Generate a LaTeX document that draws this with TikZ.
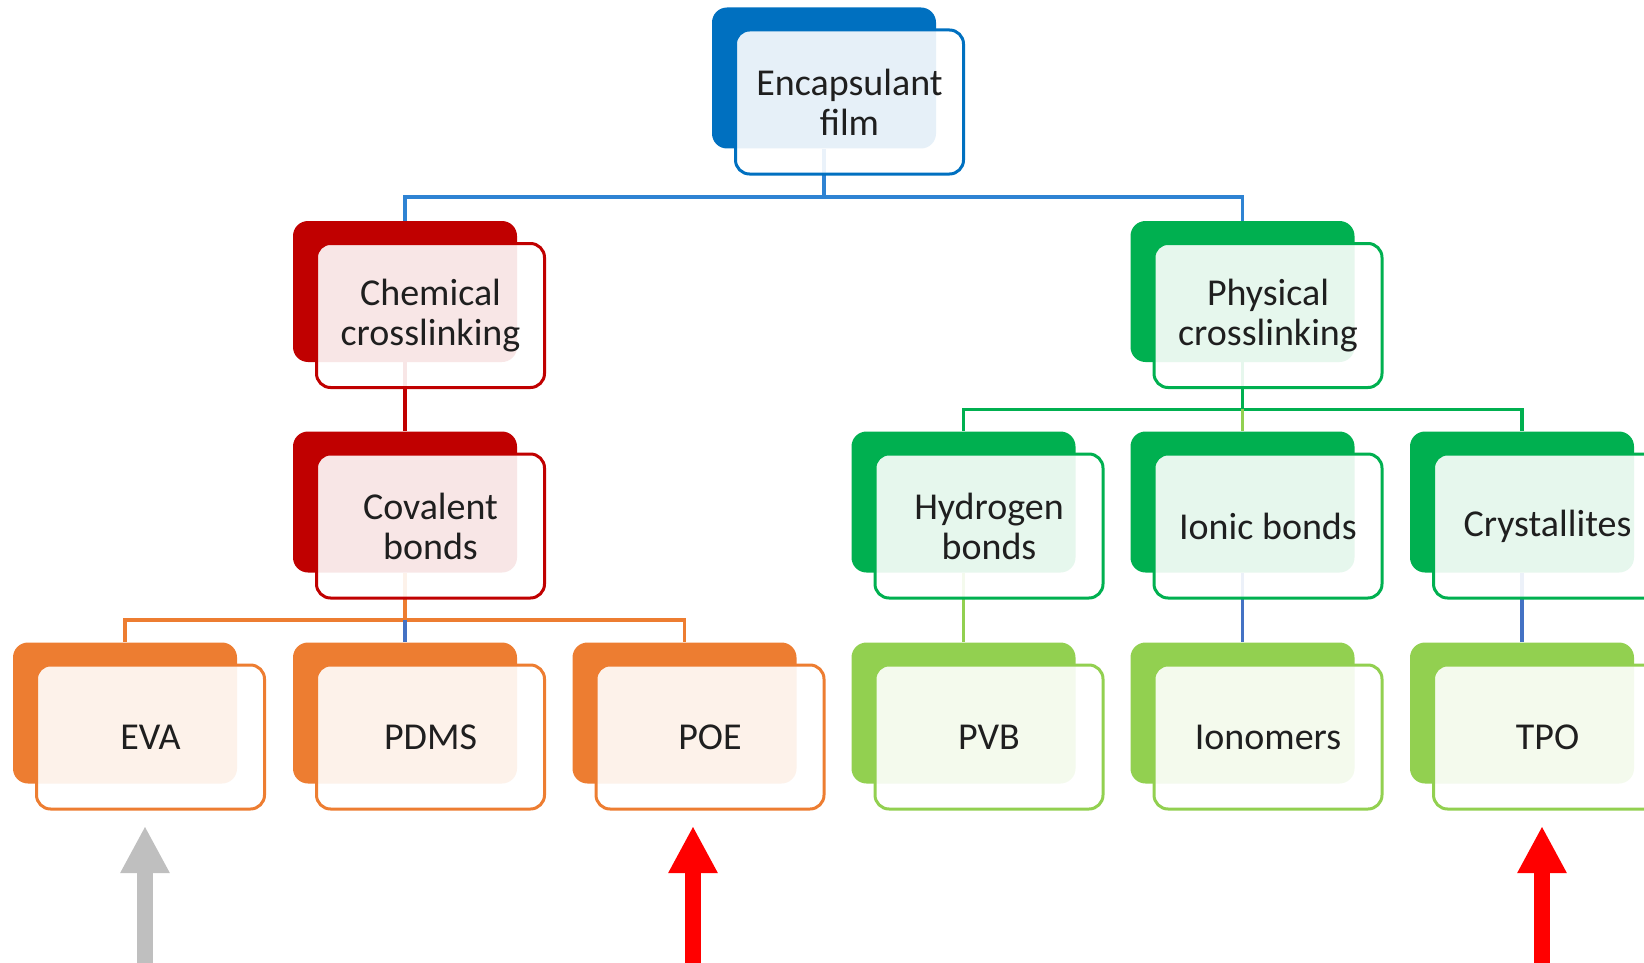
\documentclass[tikz,border=0pt]{standalone}
\usepackage{fontspec}
\setmainfont{Carlito}
\usetikzlibrary{arrows.meta, positioning, calc}

\definecolor{encblue}{HTML}{0070C0}
\definecolor{topline}{HTML}{2E83D3}
\definecolor{chemred}{HTML}{C00000}
\definecolor{covorange}{HTML}{ED7D31}
\definecolor{physgreen}{HTML}{00B050}
\definecolor{leafgreen}{HTML}{92D050}
\definecolor{linkblue}{HTML}{4472C4}
\definecolor{greyarrow}{HTML}{BFBFBF}
\definecolor{redarrow}{HTML}{FF0000}

\begin{document}
\begin{tikzpicture}[
    x=0.5pt, y=-0.5pt,
    every node/.style={font=\fontsize{19}{20}\selectfont, text=black!88},
    backbox/.style={fill=#1, rounded corners=7.5pt, inner sep=0pt,
      minimum width=112pt, minimum height=70.5pt},
    frontbox/.style={draw=#1, line width=1.5pt, rounded corners=7pt,
      fill=white, fill opacity=0.9, text opacity=1, align=center,
      inner sep=0pt, minimum width=114pt, minimum height=72pt},
    link/.style={draw=#1, line width=1.6pt},
    bigarrow/.style={draw=#1, line width=8.3pt,
      -{Triangle[length=23.5pt, width=23pt]}}
  ]

    \useasboundingbox (0,0) rectangle (1644,963);
    \clip (0,0) rectangle (1644,963);

    % Back plates
    \foreach \n/\x/\y/\c in {enc/824/78/encblue,
        chem/405/291.5/chemred, phys/1242.5/291.5/physgreen,
        cov/405/502/chemred, hyd/963.5/502/physgreen,
        ion/1242.5/502/physgreen, cry/1522/502/physgreen,
        eva/125/713/covorange, pdms/405/713/covorange, poe/684.5/713/covorange,
        pvb/963.5/713/leafgreen, iono/1242.5/713/leafgreen, tpo/1522/713/leafgreen} {
      \node[backbox=\c] (back-\n) at (\x,\y) {};
    }

    % Tree links (behind the front cards)
    \draw[link=topline] (back-enc.south) -- ++(0,48) coordinate (encJ);
    \draw[link=topline] (encJ) -| (back-chem.north);
    \draw[link=topline] (encJ) -| (back-phys.north);

    \draw[link=chemred] (back-chem.south) -- (back-cov.north);

    \draw[link=covorange] (back-cov.south) -- ++(0,47) coordinate (covJ);
    \draw[link=covorange] (covJ) -| (back-eva.north);
    \draw[link=covorange] (covJ) -| (back-poe.north);
    \draw[link=linkblue] (covJ) -- (back-pdms.north);

    \draw[link=physgreen] (back-phys.south) -- ++(0,47) coordinate (physJ);
    \draw[link=physgreen] (physJ) -| (back-hyd.north);
    \draw[link=physgreen] (physJ) -| (back-cry.north);
    \draw[link=leafgreen] (physJ) -- (back-ion.north);

    \draw[link=leafgreen] (back-hyd.south) -- (back-pvb.north);
    \draw[link=linkblue] (back-ion.south) -- (back-iono.north);
    \draw[link=linkblue] (back-cry.south) -- (back-tpo.north);

    % Front cards with labels
    \foreach \n/\c/\txt in {enc/encblue/{Encapsulant\\film},
        chem/chemred/{Chemical\\crosslinking}, phys/physgreen/{Physical\\crosslinking},
        cov/chemred/{Covalent\\bonds}, hyd/physgreen/{Hydrogen\\bonds},
        ion/physgreen/{Ionic bonds}, cry/physgreen/{Crystallites},
        eva/covorange/{EVA}, pdms/covorange/{PDMS}, poe/covorange/{POE},
        pvb/leafgreen/{PVB}, iono/leafgreen/{Ionomers}, tpo/leafgreen/{TPO}} {
      \node[frontbox=\c] (\n) at ($(back-\n)+(25.5,24)$) {\txt};
    }

    % Pointer arrows
    \coordinate (evaA) at (145,990);
    \coordinate (poeA) at (693,990);
    \coordinate (tpoA) at (1542,990);
    \draw[bigarrow=greyarrow] (evaA) -- ($(eva.south)+(-5.5,15.5)$);
    \draw[bigarrow=redarrow] (poeA) -- ($(poe.south)+(-17,15.5)$);
    \draw[bigarrow=redarrow] (tpoA) -- ($(tpo.south)+(-5.5,15.5)$);

  \end{tikzpicture}
\end{document}
